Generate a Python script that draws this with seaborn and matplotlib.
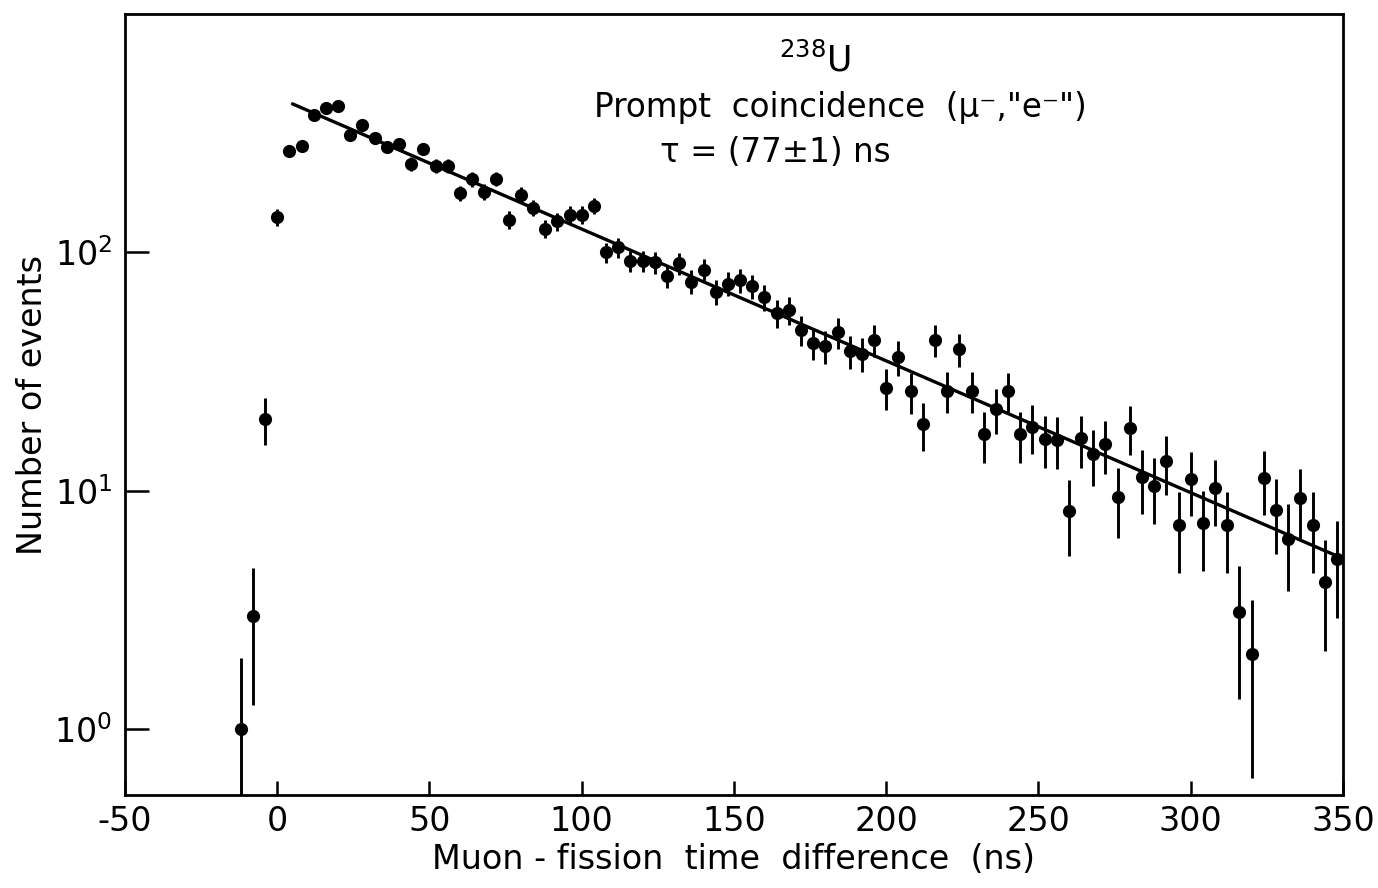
import numpy as np
import pandas as pd
import seaborn as sns
import matplotlib.pyplot as plt
from matplotlib.ticker import NullLocator

# Bin centres (ns) and counts
time_ns = [-12, -8, -4, 0, 4, 8, 12, 16, 20, 24, 28, 32, 36, 40, 44, 48, 52, 56,
           60, 64, 68, 72, 76, 80, 84, 88, 92, 96, 100, 104, 108, 112, 116, 120,
           124, 128, 132, 136, 140, 144, 148, 152, 156, 160, 164, 168, 172, 176,
           180, 184, 188, 192, 196, 200, 204, 208, 212, 216, 220, 224, 228, 232,
           236, 240, 244, 248, 252, 256, 260, 264, 268, 272, 276, 280, 284, 288,
           292, 296, 300, 304, 308, 312, 316, 320, 324, 328, 332, 336, 340, 344, 348]
counts = [1.0, 3.0, 20, 141, 267, 280, 376, 404, 410, 312, 343, 301, 277, 286,
          236, 272, 231, 231, 177, 203, 180, 204, 137, 175, 154, 126, 135, 144,
          144, 157, 100, 105, 92, 92, 91, 80, 90, 75.5, 84.5, 68.5, 74, 76.4, 72,
          65, 55.6, 57.3, 47.2, 41.9, 40.5, 46.3, 38.5, 37.5, 43, 27.1, 36.5, 26.2,
          19.1, 43.1, 26.3, 39.3, 26.3, 17.3, 22.1, 26.2, 17.3, 18.6, 16.5, 16.4,
          8.2, 16.6, 14.3, 15.7, 9.4, 18.4, 11.4, 10.5, 13.3, 7.2, 11.2, 7.3, 10.3,
          7.2, 3.1, 2.06, 11.3, 8.3, 6.3, 9.3, 7.2, 4.16, 5.2]

# exponential fit, tau = 77 ns (straight line on the log axis)
fit_time = [5, 350]
fit_counts = [420, 5.2]

sns.set_style('ticks')
plt.rcParams['font.family'] = ['DejaVu Sans']
plt.rcParams['mathtext.default'] = 'regular'
plt.rcParams['axes.unicode_minus'] = False
for key in ['text.color', 'axes.labelcolor', 'xtick.color', 'ytick.color']:
    plt.rcParams[key] = 'black'

df = pd.DataFrame({'t': time_ns, 'n': counts})

fig = plt.figure(figsize=(13.78, 8.88), dpi=100)
ax = fig.add_axes([0.0907, 0.1047, 0.8839, 0.8795])
ax.set_yscale('log')

ax.errorbar(df['t'], df['n'], yerr=np.sqrt(df['n']), fmt='none',
            ecolor='black', elinewidth=2.1, capsize=0, zorder=2)
sns.scatterplot(data=df, x='t', y='n', ax=ax, color='black', s=90,
                linewidth=0, zorder=3)
sns.lineplot(x=fit_time, y=fit_counts, ax=ax, color='black', lw=2.4, zorder=2)

ax.set_xlim(-50, 350)
ax.set_ylim(0.53, 1000)
ax.set_xticks(range(-50, 351, 50))
ax.set_yticks([1, 10, 100])
ax.set_yticklabels(['$10^{0}$', '$10^{1}$', '$10^{2}$'])
ax.yaxis.set_minor_locator(NullLocator())

ax.tick_params(axis='y', direction='in', length=17, width=1.8, labelsize=24, pad=9)
ax.tick_params(axis='x', direction='in', length=10, width=1.8, labelsize=24, pad=7)
for s in ax.spines.values():
    s.set_linewidth(2)
    s.set_color('black')

ax.set_xlabel('Muon - fission  time  difference  (ns)', fontsize=24, labelpad=4)
ax.set_ylabel('Number of events', fontsize=24, labelpad=4)

ax.text(0.5665, 0.941, '$^{238}$U', transform=ax.transAxes, fontsize=25,
        ha='center', va='center')
ax.text(0.587, 0.880, 'Prompt  coincidence  (μ⁻,"e⁻")', transform=ax.transAxes,
        fontsize=23.5, ha='center', va='center')
ax.text(0.439, 0.823, 'τ = (77±1) ns', transform=ax.transAxes, fontsize=23.5,
        ha='left', va='center')

fig.savefig('out.png', dpi=100)
